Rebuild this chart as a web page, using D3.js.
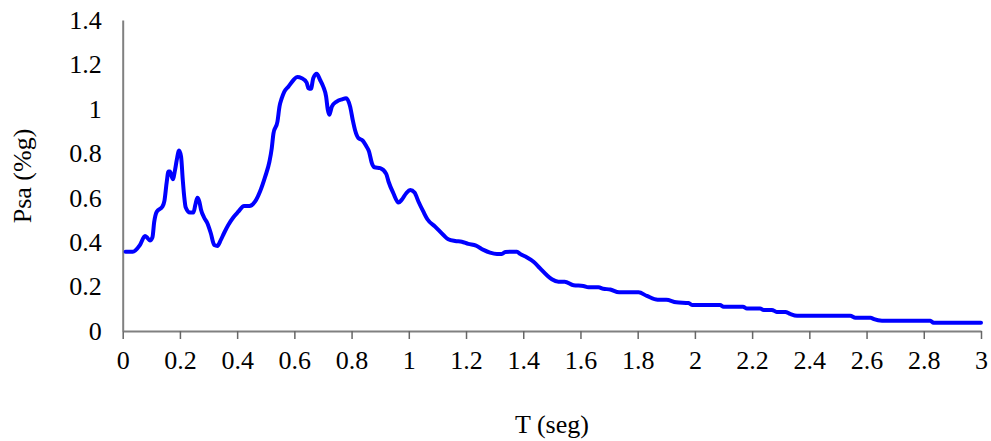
<!DOCTYPE html>
<html>
<head>
<meta charset="utf-8">
<script src="https://cdn.jsdelivr.net/npm/d3@7"></script>
<style>
  html, body { margin: 0; padding: 0; background: #fff; }
  svg { display: block; }
  text { font-family: "Liberation Serif", "Times New Roman", serif; fill: #000; }
</style>
</head>
<body>
<svg id="chart" width="991" height="441"></svg>
<script>
// Period T (seg)
const periods = [0.01,0.035,0.06,0.078,0.086,0.095,0.104,0.11,0.119,0.139,0.146,0.154,0.16,0.165,0.175,0.183,0.189,0.197,0.204,0.21,0.215,0.22,0.235,0.247,0.254,0.261,0.268,0.274,0.284,0.296,0.308,0.32,0.331,0.343,0.354,0.369,0.387,0.404,0.424,0.443,0.463,0.48,0.498,0.513,0.521,0.527,0.541,0.548,0.556,0.565,0.579,0.597,0.61,0.626,0.643,0.649,0.658,0.666,0.678,0.69,0.701,0.711,0.717,0.722,0.731,0.748,0.766,0.781,0.795,0.804,0.812,0.824,0.839,0.851,0.861,0.871,0.88,0.9,0.921,0.929,0.946,0.964,0.975,0.991,1.005,1.02,1.034,1.051,1.065,1.092,1.121,1.138,1.162,1.185,1.208,1.235,1.261,1.284,1.308,1.325,1.337,1.36,1.378,1.389,1.412,1.436,1.459,1.482,1.5,1.523,1.545,1.576,1.61,1.628,1.663,1.68,1.704,1.735,1.803,1.832,1.87,1.9,1.935,1.978,1.99,2.088,2.1,2.168,2.182,2.228,2.24,2.269,2.286,2.316,2.333,2.357,2.543,2.561,2.614,2.626,2.654,2.823,2.834,3.0];
// Pseudo-acceleration Psa (%g)
const psa = [0.357,0.357,0.387,0.428,0.42,0.407,0.422,0.49,0.537,0.56,0.587,0.672,0.718,0.718,0.683,0.725,0.77,0.812,0.785,0.68,0.605,0.557,0.533,0.533,0.568,0.6,0.582,0.545,0.512,0.485,0.44,0.387,0.383,0.41,0.44,0.477,0.512,0.537,0.563,0.563,0.583,0.628,0.695,0.763,0.823,0.89,0.943,1.01,1.048,1.078,1.1,1.13,1.143,1.138,1.118,1.093,1.09,1.138,1.158,1.13,1.1,1.055,0.995,0.973,1.01,1.033,1.043,1.048,1.01,0.95,0.905,0.868,0.857,0.833,0.808,0.755,0.737,0.733,0.707,0.673,0.62,0.578,0.59,0.62,0.635,0.623,0.582,0.537,0.503,0.47,0.432,0.413,0.405,0.402,0.392,0.384,0.365,0.353,0.347,0.347,0.356,0.357,0.357,0.347,0.332,0.312,0.282,0.252,0.233,0.222,0.222,0.206,0.203,0.197,0.197,0.19,0.187,0.174,0.174,0.158,0.141,0.141,0.129,0.126,0.117,0.117,0.109,0.109,0.101,0.101,0.095,0.095,0.086,0.086,0.077,0.069,0.069,0.06,0.06,0.053,0.046,0.046,0.037,0.037];

const xTickValues = [0,0.2,0.4,0.6,0.8,1,1.2,1.4,1.6,1.8,2,2.2,2.4,2.6,2.8,3];
const xTickLabels = ["0","0.2","0.4","0.6","0.8","1","1.2","1.4","1.6","1.8","2","2.2","2.4","2.6","2.8","3"];
const yTickValues = [0,0.2,0.4,0.6,0.8,1,1.2,1.4];
const yTickLabels = ["0","0.2","0.4","0.6","0.8","1","1.2","1.4"];

const xTitle = "T (seg)";
const yTitle = "Psa (%g)";

const svg = d3.select("#chart");
const margin = {left: 122.7, right: 10, top: 20, bottom: 110};
const W = 991, H = 441;

const x = d3.scaleLinear().domain([0, 3]).range([margin.left, W - margin.right]);
const y = d3.scaleLinear().domain([0, 1.4]).range([H - margin.bottom, margin.top]);

// X axis
const xAxis = d3.axisBottom(x)
  .tickValues(xTickValues)
  .tickFormat((d, i) => xTickLabels[i])
  .tickSizeInner(8).tickSizeOuter(0).tickPadding(12);
const gx = svg.append("g").attr("transform", `translate(0,${y(0)})`).call(xAxis);
gx.select(".domain").attr("stroke", "#808080").attr("stroke-width", 2);
gx.selectAll(".tick line").attr("stroke", "#666").attr("stroke-width", 1.5);
gx.selectAll(".tick text").style("font-size", "26px").style("font-family", "'Liberation Serif', serif").attr("fill", "#000");

// Y axis
const yAxis = d3.axisLeft(y)
  .tickValues(yTickValues)
  .tickFormat((d, i) => yTickLabels[i])
  .tickSizeInner(0).tickSizeOuter(0).tickPadding(21);
const gy = svg.append("g").attr("transform", `translate(${x(0)},0)`).call(yAxis);
gy.select(".domain").attr("stroke", "#808080").attr("stroke-width", 2);
gy.selectAll(".tick text").style("font-size", "26px").style("font-family", "'Liberation Serif', serif").attr("fill", "#000");

// Line
const pts = periods.map((t, i) => [t, psa[i]]);
const line = d3.line().x(d => x(d[0])).y(d => y(d[1])).curve(d3.curveMonotoneX);
svg.append("path")
  .datum(pts)
  .attr("d", line)
  .attr("fill", "none")
  .attr("stroke", "#0000FF")
  .attr("stroke-width", 4)
  .attr("stroke-linejoin", "round")
  .attr("stroke-linecap", "round");

// Titles
svg.append("text")
  .attr("x", 552).attr("y", 433)
  .attr("text-anchor", "middle")
  .style("font-size", "26px")
  .text(xTitle);

svg.append("text")
  .attr("transform", "translate(31,176) rotate(-90)")
  .attr("text-anchor", "middle")
  .style("font-size", "26px")
  .text(yTitle);
</script>
</body>
</html>
